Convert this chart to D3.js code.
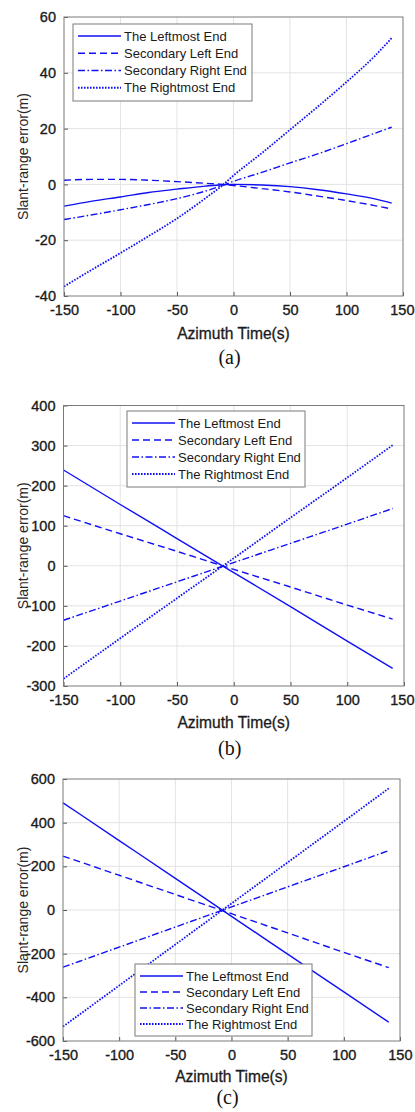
<!DOCTYPE html>
<html lang="en">
<head>
    <meta charset="UTF-8">
    <title>Slant-range error</title>
    <script src="https://d3js.org/d3.v7.min.js"></script>
    <style>
        body { margin: 0; background: #fff; }
        svg { display: block; font-family: "Liberation Sans", Arial, sans-serif; }
    </style>
</head>
<body>
<svg width="415" height="1112"></svg>
<script>

    // series names (legend order)
    let seriesNames = ["The Leftmost End", "Secondary Left End", "Secondary Right End", "The Rightmost End"];

    let xTicks = [-150, -100, -50, 0, 50, 100, 150];

    // panel (a)
    let timeA = [-150, -125, -100, -75, -50, -25, -10, 0, 25, 50, 75, 100, 125, 140];
    let leftmostA  = [-7.8, -6.0, -4.5, -2.9, -1.7, -0.6, -0.1, 0.0, -0.2, -0.8, -1.9, -3.4, -5.2, -6.7];
    let secLeftA   = [1.5, 1.8, 1.8, 1.5, 1.0, 0.4, 0.0, -0.4, -1.5, -2.7, -4.2, -5.8, -7.6, -8.8];
    let secRightA  = [-12.6, -10.9, -9.1, -7.2, -5.1, -2.4, -0.4, 1.1, 4.3, 7.7, 11.0, 14.6, 18.3, 20.5];
    let rightmostA = [-36.6, -30.5, -24.6, -18.5, -12.2, -5.0, -0.4, 3.2, 11.2, 19.6, 28.0, 36.7, 46.0, 52.5];
    let yTicksA = [-40, -20, 0, 20, 40, 60];

    // panel (b)
    let timeB = [-150, -100, -50, 0, 50, 100, 140];
    let leftmostB  = [239, 153, 68, -17, -102, -188, -256];
    let secLeftB   = [125, 80, 36, -9, -53, -98, -133];
    let secRightB  = [-136, -88, -40, 8, 56, 104, 143];
    let rightmostB = [-282, -181, -81, 19, 120, 220, 301];
    let yTicksB = [-300, -200, -100, 0, 100, 200, 300, 400];

    // panel (c)
    let timeC = [-150, -100, -50, 0, 50, 100, 140];
    let leftmostC  = [491, 318, 145, -29, -202, -375, -514];
    let secLeftC   = [247, 159, 71, -17, -105, -194, -264];
    let secRightC  = [-262, -170, -78, 14, 106, 198, 272];
    let rightmostC = [-534, -346, -158, 30, 218, 406, 557];
    let yTicksC = [-600, -400, -200, 0, 200, 400, 600];

    let dashes = [null, "7,4", "7,2.5,1.5,2.5", "1.6,1.4"];
    let blue = "#1010f5";

    let panels = [
        { x0: 64, x1: 403, y0: 17, y1: 296, yTicks: yTicksA, time: timeA,
          series: [leftmostA, secLeftA, secRightA, rightmostA],
          legend: { x: 73, y: 24, w: 179, h: 77 }, caption: "(a)", capY: 364, titleY: 339 },
        { x0: 63.5, x1: 404, y0: 405.5, y1: 686, yTicks: yTicksB, time: timeB,
          series: [leftmostB, secLeftB, secRightB, rightmostB],
          legend: { x: 127, y: 411, w: 178, h: 76 }, caption: "(b)", capY: 755, titleY: 728 },
        { x0: 63, x1: 400, y0: 779, y1: 1041, yTicks: yTicksC, time: timeC,
          series: [leftmostC, secLeftC, secRightC, rightmostC],
          legend: { x: 135, y: 964, w: 177, h: 72 }, caption: "(c)", capY: 1104, titleY: 1082 }
    ];

    let svg = d3.select("svg");

    panels.forEach(function(p) {
        let x = d3.scaleLinear().domain([-150, 150]).range([p.x0, p.x1]);
        let yExt = d3.extent(p.yTicks);
        let y = d3.scaleLinear().domain(yExt).range([p.y1, p.y0]);
        let g = svg.append("g");

        // grid
        g.selectAll(".vg").data(xTicks.slice(1, -1)).enter().append("line")
            .attr("x1", d => x(d)).attr("x2", d => x(d))
            .attr("y1", p.y0).attr("y2", p.y1)
            .attr("stroke", "#e3e3e3").attr("stroke-width", 1);
        g.selectAll(".hg").data(p.yTicks.slice(1, -1)).enter().append("line")
            .attr("y1", d => y(d)).attr("y2", d => y(d))
            .attr("x1", p.x0).attr("x2", p.x1)
            .attr("stroke", "#e3e3e3").attr("stroke-width", 1);

        // lines
        let line = d3.line()
            .x((d, i) => x(p.time[i]))
            .y(d => y(d))
            .curve(d3.curveMonotoneX);
        p.series.forEach(function(s, i) {
            g.append("path")
                .attr("d", line(s))
                .attr("fill", "none")
                .attr("stroke", blue)
                .attr("stroke-width", i == 3 ? 1.8 : 1.4)
                .attr("stroke-dasharray", dashes[i]);
        });

        // axes (MATLAB style: inward ticks)
        let xAxis = d3.axisBottom(x).tickValues(xTicks).tickSize(-4).tickPadding(9);
        let yAxis = d3.axisLeft(y).tickValues(p.yTicks).tickSize(-4).tickPadding(8);
        let xg = g.append("g").attr("transform", "translate(0," + p.y1 + ")").call(xAxis)
            .call(a => a.select(".domain").remove());
        g.append("g").attr("transform", "translate(" + p.x0 + ",0)").call(yAxis)
            .call(a => a.select(".domain").remove());
        g.selectAll(".tick line").attr("stroke", "#555");
        g.selectAll(".tick text")
            .attr("font-size", 14.5)
            .attr("font-family", "'Liberation Sans', Arial, sans-serif")
            .attr("fill", "#1a1a1a")
            .attr("stroke", "#1a1a1a").attr("stroke-width", 0.35)
            .text(d => d < 0 ? "-" + Math.abs(d) : d);
        // keep the last label inside the page
        xg.selectAll(".tick text").filter(d => d == 150)
            .attr("text-anchor", "end").attr("dx", Math.min(12, 414 - p.x1));

        // box
        g.append("rect")
            .attr("x", p.x0).attr("y", p.y0)
            .attr("width", p.x1 - p.x0).attr("height", p.y1 - p.y0)
            .attr("fill", "none").attr("stroke", "#7a7a7a").attr("stroke-width", 1);

        // axis titles
        g.append("text")
            .attr("x", (p.x0 + p.x1) / 2).attr("y", p.titleY)
            .attr("text-anchor", "middle")
            .attr("font-size", 15.6).attr("fill", "#1a1a1a")
            .attr("stroke", "#1a1a1a").attr("stroke-width", 0.3)
            .text("Azimuth Time(s)");
        g.append("text")
            .attr("transform", "translate(23," + ((p.y0 + p.y1) / 2) + ") rotate(-90)")
            .attr("text-anchor", "middle").attr("dy", "0.35em")
            .attr("font-size", 14).attr("fill", "#262626")
            .text("Slant-range error(m)");

        // caption
        g.append("text")
            .attr("x", (p.x0 + p.x1) / 2 - 4).attr("y", p.capY)
            .attr("text-anchor", "middle")
            .attr("font-family", "'Liberation Serif', 'Times New Roman', serif")
            .attr("font-size", 20).attr("fill", "#111")
            .text(p.caption);

        // legend
        let L = p.legend;
        let lg = g.append("g").attr("transform", "translate(" + L.x + "," + L.y + ")");
        lg.append("rect").attr("width", L.w).attr("height", L.h)
            .attr("fill", "#fff").attr("stroke", "#7a7a7a").attr("stroke-width", 1);
        let step = (L.h - 8) / 4;
        seriesNames.forEach(function(name, i) {
            let cy = 12 + i * step;
            lg.append("line")
                .attr("x1", 5).attr("x2", 48).attr("y1", cy).attr("y2", cy)
                .attr("stroke", blue)
                .attr("stroke-width", i == 3 ? 1.8 : 1.4)
                .attr("stroke-dasharray", dashes[i]);
            lg.append("text")
                .attr("x", 51).attr("y", cy).attr("dy", "0.36em")
                .attr("font-size", 13).attr("fill", "#1a1a1a")
                .text(name);
        });
    });
</script>
</body>
</html>
